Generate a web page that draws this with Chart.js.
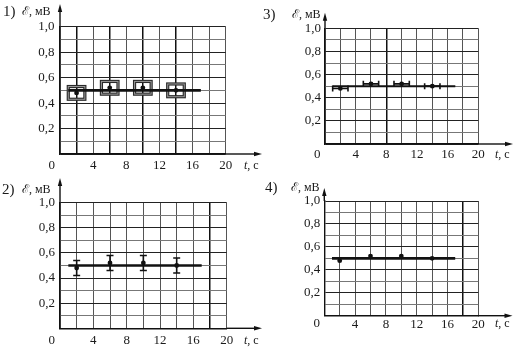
<!DOCTYPE html>
<html><head><meta charset="utf-8">
<script src="https://cdn.jsdelivr.net/npm/chart.js@4.4.1/dist/chart.umd.min.js"></script>
<style>
html,body{margin:0;padding:0;background:#fff;}
#wrap{position:relative;width:516px;height:347px;overflow:hidden;background:#fff;}
canvas{position:absolute;left:0;top:0;}
</style></head><body>
<div id="wrap">
<canvas id="c1" width="516" height="347"></canvas>
<canvas id="c2" width="516" height="347"></canvas>
<canvas id="c3" width="516" height="347"></canvas>
<canvas id="c4" width="516" height="347"></canvas>
</div>
<script>
// ---- data ----
const times = [2, 6, 10, 14];
const emf = [0.48, 0.52, 0.52, 0.50];
const fitTimes = [1, 17];
const fitEmf = [0.5, 0.5];
const timeErr = [1, 1, 1, 1];
const boxEmfErr = [0.05, 0.05, 0.05, 0.05];
const barEmfErr = [0.06, 0.06, 0.06, 0.06];
const xTickValues = [4, 8, 12, 16, 20];
const xTickLabels = ['4', '8', '12', '16', '20'];
const yTickValues = [0.2, 0.4, 0.6, 0.8, 1.0];
const yTickLabels = ['0,2', '0,4', '0,6', '0,8', '1,0'];
const panelNames = ['1)', '2)', '3)', '4)'];
const yAxisTitle = 'ℰ, мВ';
const xAxisTitleItalic = 't';
const xAxisTitleRest = ', с';
const originLabel = '0';

// ---- layout (positions/styles only) ----
const panels = [
  {id:'c1', name:0, mode:'box',  l:60,    r:225.7, t:26.7,  b:154,   xPad:4.2, yPad:5.5,
   nameX:3,   nameY:12,  titleX:22,  titleY:12,  zeroX:51.7,  labY:166,  tcX:244, yTip:4,   xTip:262, lineW:2.6, bold:[2,6,10,14]},
  {id:'c2', name:1, mode:'yerr', l:60,    r:226.7, t:202.7, b:328.3, xPad:4.9, yPad:5,
   nameX:2,   nameY:190, titleX:22,  titleY:190, zeroX:51.7,  labY:341,  tcX:244, yTip:178, xTip:262, lineW:2.6, bold:[18]},
  {id:'c3', name:2, mode:'xerr', l:325,   r:478.3, t:28.3,  b:144,   xPad:3.2, yPad:4,
   nameX:263, nameY:15,  titleX:292, titleY:15,  zeroX:317.3, labY:155,  tcX:495, yTip:12.7,xTip:513, lineW:2,   bold:[8]},
  {id:'c4', name:3, mode:'none', l:324.3, r:478.3, t:201,   b:315.7, xPad:0.6, yPad:4,
   nameX:265, nameY:188, titleX:291, titleY:188, zeroX:316.7, labY:324,  tcX:495, yTip:188, xTip:512.5, lineW:2.6, bold:[18]}
];

const SERIF = '"Liberation Serif","DejaVu Serif","Times New Roman",serif';
const W = 516, H = 347;

function near(a, b) { return Math.abs(a - b) < 1e-6; }

const overlay = {
  id: 'overlay',
  beforeDatasetsDraw(chart) {
    const p = chart.options.plugins.overlay.panel;
    const xs = chart.scales.x, ys = chart.scales.y, ctx = chart.ctx;
    ctx.save();
    for (let i = 0; i < times.length; i++) {
      const cx = xs.getPixelForValue(times[i]);
      const cy = ys.getPixelForValue(emf[i]);
      if (p.mode === 'box') {
        const x0 = xs.getPixelForValue(times[i] - timeErr[i]);
        const x1 = xs.getPixelForValue(times[i] + timeErr[i]);
        const y0 = ys.getPixelForValue(emf[i] + boxEmfErr[i]);
        const y1 = ys.getPixelForValue(emf[i] - boxEmfErr[i]);
        ctx.strokeStyle = '#2a2a2a'; ctx.lineWidth = 3.2;
        ctx.strokeRect(x0, y0, x1 - x0, y1 - y0);
        ctx.strokeStyle = '#9a9a9a'; ctx.lineWidth = 1;
        ctx.strokeRect(x0, y0, x1 - x0, y1 - y0);
      } else if (p.mode === 'yerr') {
        const y0 = ys.getPixelForValue(emf[i] + barEmfErr[i]);
        const y1 = ys.getPixelForValue(emf[i] - barEmfErr[i]);
        ctx.strokeStyle = '#111'; ctx.lineWidth = 1.6;
        ctx.beginPath();
        ctx.moveTo(cx, y0); ctx.lineTo(cx, y1);
        ctx.moveTo(cx - 3.5, y0); ctx.lineTo(cx + 3.5, y0);
        ctx.moveTo(cx - 3.5, y1); ctx.lineTo(cx + 3.5, y1);
        ctx.stroke();
      } else if (p.mode === 'xerr') {
        const x0 = xs.getPixelForValue(times[i] - timeErr[i]);
        const x1 = xs.getPixelForValue(times[i] + timeErr[i]);
        ctx.strokeStyle = '#111'; ctx.lineWidth = 1.6;
        ctx.beginPath();
        ctx.moveTo(x0, cy); ctx.lineTo(x1, cy);
        ctx.moveTo(x0, cy - 3); ctx.lineTo(x0, cy + 3);
        ctx.moveTo(x1, cy - 3); ctx.lineTo(x1, cy + 3);
        ctx.stroke();
      }
    }
    ctx.restore();
  },
  afterDraw(chart) {
    const p = chart.options.plugins.overlay.panel;
    const ctx = chart.ctx, a = chart.chartArea;
    ctx.save();
    ctx.strokeStyle = '#111'; ctx.fillStyle = '#111'; ctx.lineWidth = 1.4;
    // y axis arrow
    ctx.beginPath(); ctx.moveTo(a.left, a.top); ctx.lineTo(a.left, p.yTip + 5); ctx.stroke();
    ctx.beginPath(); ctx.moveTo(a.left, p.yTip); ctx.lineTo(a.left - 2.2, p.yTip + 8); ctx.lineTo(a.left + 2.2, p.yTip + 8); ctx.closePath(); ctx.fill();
    // x axis arrow
    ctx.beginPath(); ctx.moveTo(a.right, a.bottom); ctx.lineTo(p.xTip - 5, a.bottom); ctx.stroke();
    ctx.beginPath(); ctx.moveTo(p.xTip, a.bottom); ctx.lineTo(p.xTip - 8, a.bottom - 2.2); ctx.lineTo(p.xTip - 8, a.bottom + 2.2); ctx.closePath(); ctx.fill();
    // texts
    ctx.fillStyle = '#1a1a1a';
    ctx.textBaseline = 'middle'; ctx.textAlign = 'left';
    ctx.font = '15px ' + SERIF;
    ctx.fillText(panelNames[p.name], p.nameX, p.nameY);
    ctx.font = '12px ' + SERIF;
    ctx.fillText(yAxisTitle, p.titleX, p.titleY);
    ctx.font = 'italic 12px ' + SERIF;
    ctx.fillText(xAxisTitleItalic, p.tcX, p.labY);
    const tw = ctx.measureText(xAxisTitleItalic).width;
    ctx.font = '12px ' + SERIF;
    ctx.fillText(xAxisTitleRest, p.tcX + tw, p.labY);
    ctx.font = '13px ' + SERIF;
    ctx.textAlign = 'center';
    ctx.fillText(originLabel, p.zeroX, p.labY);
    ctx.restore();
  }
};

function makeChart(p) {
  const fitData = fitTimes.map((t, i) => ({x: t, y: fitEmf[i]}));
  const ptData = times.map((t, i) => ({x: t, y: emf[i]}));
  return new Chart(document.getElementById(p.id), {
    type: 'scatter',
    data: {
      datasets: [
        {data: fitData, showLine: true, borderColor: '#111', borderWidth: p.lineW, pointRadius: 0, fill: false},
        {data: ptData, showLine: false, backgroundColor: '#111', borderColor: '#111', pointRadius: 2.4, pointBorderWidth: 0}
      ]
    },
    options: {
      responsive: false, animation: false, devicePixelRatio: 1,
      layout: {padding: {left: 0, top: p.t, right: W - p.r, bottom: 0}},
      plugins: {legend: {display: false}, tooltip: {enabled: false}, overlay: {panel: p}},
      scales: {
        x: {
          type: 'linear', min: 0, max: 20,
          afterFit: s => { s.height = H - p.b; },
          border: {display: true, color: '#111', width: 1.4},
          grid: {
            drawTicks: false,
            color: c => p.bold.some(v => near(v, c.tick.value)) ? '#111' : '#555',
            lineWidth: c => p.bold.some(v => near(v, c.tick.value)) ? 1.5 : 1
          },
          ticks: {
            stepSize: 2, autoSkip: false, maxRotation: 0, padding: p.xPad, color: '#1a1a1a',
            font: {family: SERIF, size: 13},
            callback: v => { const i = xTickValues.findIndex(t => near(t, v)); return i >= 0 ? xTickLabels[i] : ''; }
          }
        },
        y: {
          type: 'linear', min: 0, max: 1,
          afterFit: s => { s.width = p.l; },
          border: {display: true, color: '#111', width: 1.4},
          grid: {
            drawTicks: false,
            color: c => (Math.round(c.tick.value * 10) % 2 === 0) ? '#222' : '#777',
            lineWidth: 1
          },
          ticks: {
            stepSize: 0.1, autoSkip: false, padding: p.yPad, color: '#1a1a1a',
            font: {family: SERIF, size: 13},
            callback: v => { const i = yTickValues.findIndex(t => near(t, v)); return i >= 0 ? yTickLabels[i] : ''; }
          }
        }
      }
    },
    plugins: [overlay]
  });
}

panels.forEach(makeChart);
</script>
</body></html>
